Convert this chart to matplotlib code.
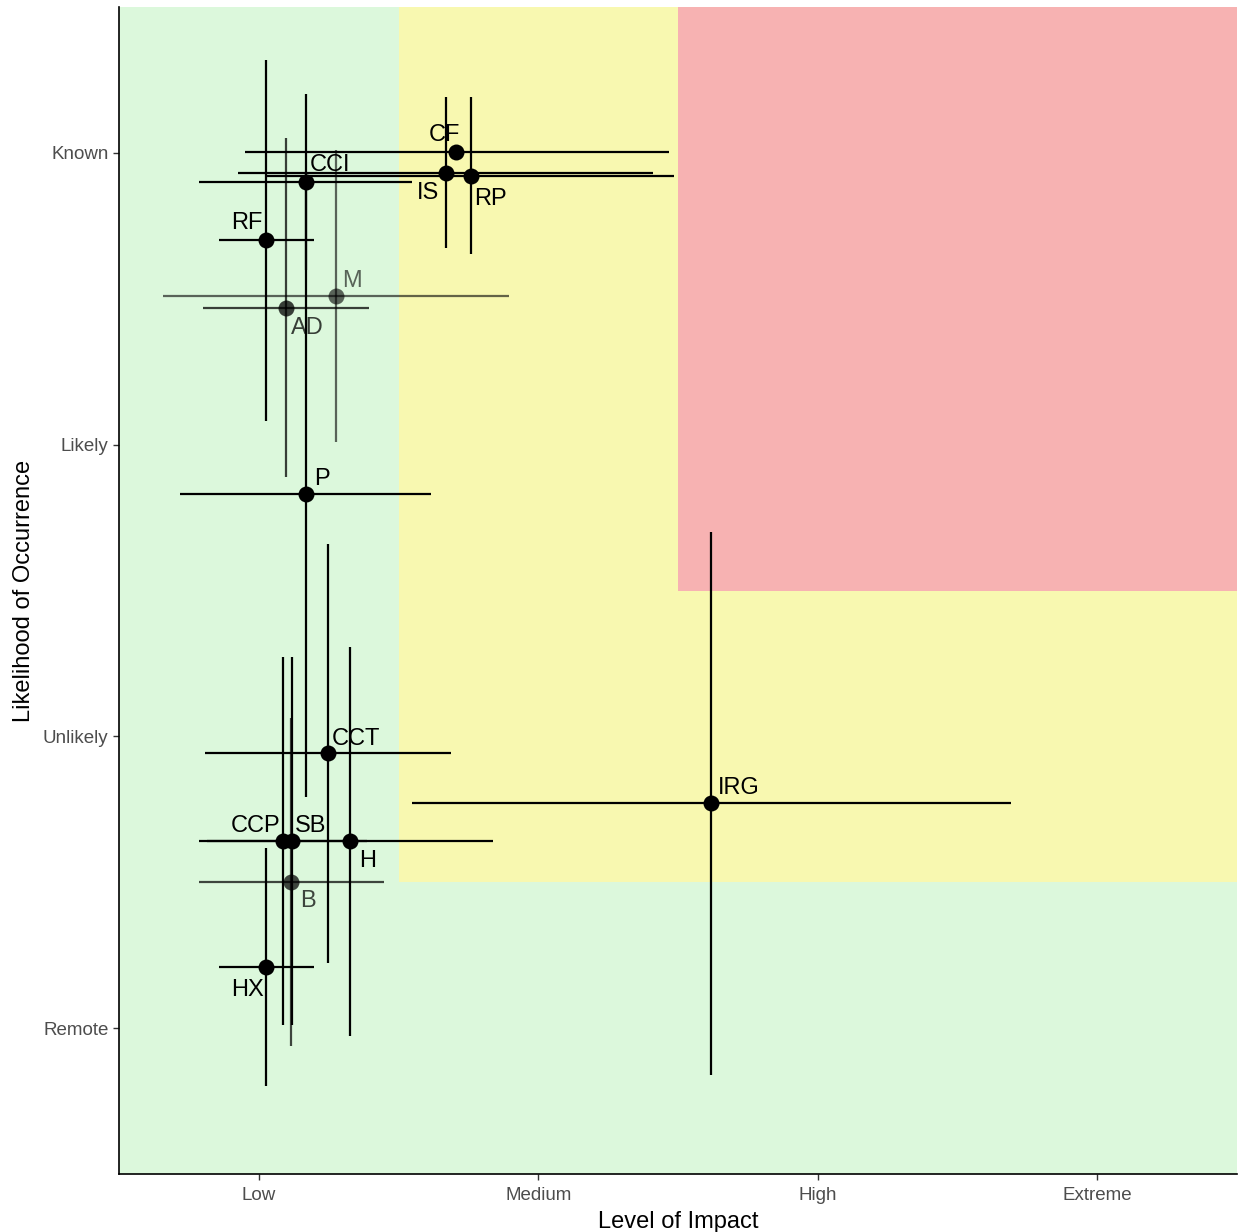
import matplotlib
matplotlib.use('Agg')
import matplotlib.pyplot as plt
from matplotlib.patches import Rectangle

# ---- data ----
labels = ['CF', 'IS', 'RP', 'CCI', 'RF', 'M', 'AD', 'P', 'CCT', 'IRG', 'CCP', 'SB', 'H', 'B', 'HX']
impact = [1.706, 1.670, 1.760, 1.170, 1.027, 1.277, 1.098, 1.170, 1.248, 2.618, 1.087, 1.120, 1.327, 1.116, 1.027]
impact_lo = [0.952, 0.926, 1.030, 0.787, 0.859, 0.658, 0.801, 0.719, 0.808, 1.549, 0.787, 1.120, 0.816, 0.787, 0.859]
impact_hi = [2.468, 2.410, 2.485, 1.549, 1.198, 1.895, 1.395, 1.617, 1.688, 3.690, 1.388, 1.120, 1.838, 1.449, 1.198]
likelihood = [4.003, 3.932, 3.921, 3.901, 3.702, 3.510, 3.469, 2.832, 1.942, 1.771, 1.640, 1.640, 1.640, 1.500, 1.209]
likelihood_lo = [4.003, 3.675, 3.654, 3.599, 3.082, 3.010, 2.890, 1.791, 1.223, 0.839, 1.010, 1.010, 0.973, 0.938, 0.801]
likelihood_hi = [4.003, 4.192, 4.192, 4.202, 4.318, 4.010, 4.051, 3.873, 2.661, 2.699, 2.271, 2.271, 2.308, 2.062, 1.616]
opacity = [1, 1, 1, 1, 1, 0.6, 0.75, 1, 1, 1, 1, 1, 1, 0.72, 1]

impact_ticks = ['Low', 'Medium', 'High', 'Extreme']
likelihood_ticks = ['Remote', 'Unlikely', 'Likely', 'Known']

# label offsets in pixels (dx, dy up)
label_offsets = [(-12, 17), (-18, -20), (19, -23), (24, 17), (-19, 17), (16, 15), (21, -20),
                 (16, 15), (28, 14), (28, 15), (-28, 15), (18, 15), (17, -20), (17, -19), (-19, -23)]

plt.rcParams['font.family'] = ['Liberation Sans', 'DejaVu Sans']

fig = plt.figure(figsize=(12.38, 12.32), dpi=100)
ax = fig.add_axes([119 / 1238, 1 - 1174 / 1232, (1237 - 119) / 1238, (1174 - 7) / 1232])

ax.set_xlim(0.5, 4.5)
ax.set_ylim(0.5, 4.5)

# zones
ax.set_facecolor('#dcf8dc')
ax.add_patch(Rectangle((1.5, 1.5), 3.0, 3.0, facecolor='#f8f8b0', edgecolor='none', zorder=0))
ax.add_patch(Rectangle((2.5, 2.5), 2.0, 2.0, facecolor='#f7b2b2', edgecolor='none', zorder=0.5))

for i, lab in enumerate(labels):
    a = opacity[i]
    x, y = impact[i], likelihood[i]
    if impact_hi[i] > impact_lo[i]:
        ax.plot([impact_lo[i], impact_hi[i]], [y, y], color='black', alpha=a, lw=1.6,
                solid_capstyle='butt', zorder=2)
    if likelihood_hi[i] > likelihood_lo[i]:
        ax.plot([x, x], [likelihood_lo[i], likelihood_hi[i]], color='black', alpha=a, lw=1.6,
                solid_capstyle='butt', zorder=2)

for i, lab in enumerate(labels):
    a = opacity[i]
    ax.plot(impact[i], likelihood[i], 'o', color='black', alpha=a, markersize=11.5,
            markeredgewidth=0, zorder=3)
    dx, dy = label_offsets[i]
    ax.annotate(lab, (impact[i], likelihood[i]), xytext=(dx, dy), textcoords='offset pixels',
                ha='center', va='center', fontsize=17, color='black', alpha=a, zorder=4)

ax.set_xticks([1, 2, 3, 4])
ax.set_xticklabels(impact_ticks)
ax.set_yticks([1, 2, 3, 4])
ax.set_yticklabels(likelihood_ticks)
ax.tick_params(axis='both', labelsize=13.5, labelcolor='#4d4d4d', color='#333333',
               length=4, width=1)
ax.tick_params(axis='x', pad=5.5)
ax.set_xlabel('Level of Impact', fontsize=17, labelpad=5)
ax.set_ylabel('Likelihood of Occurrence', fontsize=17, labelpad=6)

for s in ['top', 'right']:
    ax.spines[s].set_visible(False)
for s in ['left', 'bottom']:
    ax.spines[s].set_linewidth(1.2)
    ax.spines[s].set_color('black')

fig.savefig('out.png', dpi=100)
